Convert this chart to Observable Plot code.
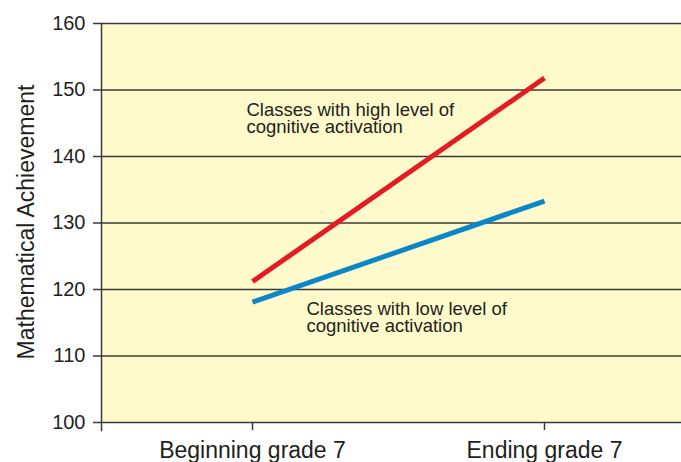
<!DOCTYPE html>
<html>
<head>
<meta charset="utf-8">
<script src="https://cdn.jsdelivr.net/npm/d3@7"></script>
<script src="https://cdn.jsdelivr.net/npm/@observablehq/plot@0.6"></script>
<style>
  html, body { margin: 0; padding: 0; background: #ffffff; }
  #chart svg { display: block; }
</style>
</head>
<body>
<div id="chart"></div>
<script>
const categories = ["Beginning grade 7", "Ending grade 7"];
const highValues = [121.2, 151.8];
const lowValues = [118.1, 133.3];
const seriesNames = ["high", "low"];
const yTicks = [100, 110, 120, 130, 140, 150, 160];
const yTitle = "Mathematical Achievement";
const annotationTexts = [
  "Classes with high level of\ncognitive activation",
  "Classes with low level of\ncognitive activation"
];
const annotationX = ["Beginning grade 7", "Beginning grade 7"];
const annotationY = [148, 118];

const rows = [];
categories.forEach((c, i) => {
  rows.push({series: seriesNames[0], x: c, y: highValues[i]});
  rows.push({series: seriesNames[1], x: c, y: lowValues[i]});
});
const annotations = annotationTexts.map((t, i) => ({text: t, x: annotationX[i], y: annotationY[i], series: seriesNames[i]}));

const font = "'Liberation Sans', Arial, Helvetica, sans-serif";
const annoStyle = {x: "x", y: "y", text: "text", textAnchor: "start", lineAnchor: "top", lineHeight: 0.93, fontSize: 18.5, fill: "#231f20", style: {letterSpacing: "0.3px"}};

const chart = Plot.plot({
  width: 681,
  height: 462,
  marginLeft: 101,
  marginRight: 0,
  marginTop: 23,
  marginBottom: 40,
  style: {fontFamily: font, background: "#ffffff", color: "#231f20", overflow: "visible"},
  x: {type: "point", domain: categories, range: [252, 544], padding: 0},
  y: {domain: [100, 160]},
  color: {domain: seriesNames, range: ["#e31b23", "#0b87c9"]},
  marks: [
    Plot.frame({fill: "#fefacb", stroke: null}),
    Plot.ruleY(yTicks, {stroke: "#3a3a3a", strokeWidth: 1.5}),
    Plot.frame({anchor: "left", stroke: "#3a3a3a", strokeWidth: 1.5, insetBottom: -8}),
    Plot.axisY({ticks: yTicks, tickSize: 8, tickPadding: 8, label: null, fontSize: 20, stroke: "#3a3a3a", strokeWidth: 1.5, fill: "#231f20"}),
    Plot.axisX({tickSize: 8, tickPadding: 11, label: null, fontSize: 23, stroke: "#3a3a3a", strokeWidth: 1.5, fill: "#231f20", style: {letterSpacing: "0.5px"}}),
    Plot.text([yTitle], {frameAnchor: "left", text: d => d, rotate: -90, textAnchor: "middle", dx: -75, dy: -1, fontSize: 23, fill: "#231f20", lineAnchor: "middle", style: {letterSpacing: "0.6px"}}),
    Plot.line(rows, {x: "x", y: "y", z: "series", stroke: "series", strokeWidth: 5, strokeLinecap: "butt"}),
    Plot.text(annotations.filter(d => d.series === seriesNames[0]), {...annoStyle, dx: -6}),
    Plot.text(annotations.filter(d => d.series === seriesNames[1]), {...annoStyle, dx: 54})
  ]
});
document.getElementById("chart").appendChild(chart);
</script>
</body>
</html>
